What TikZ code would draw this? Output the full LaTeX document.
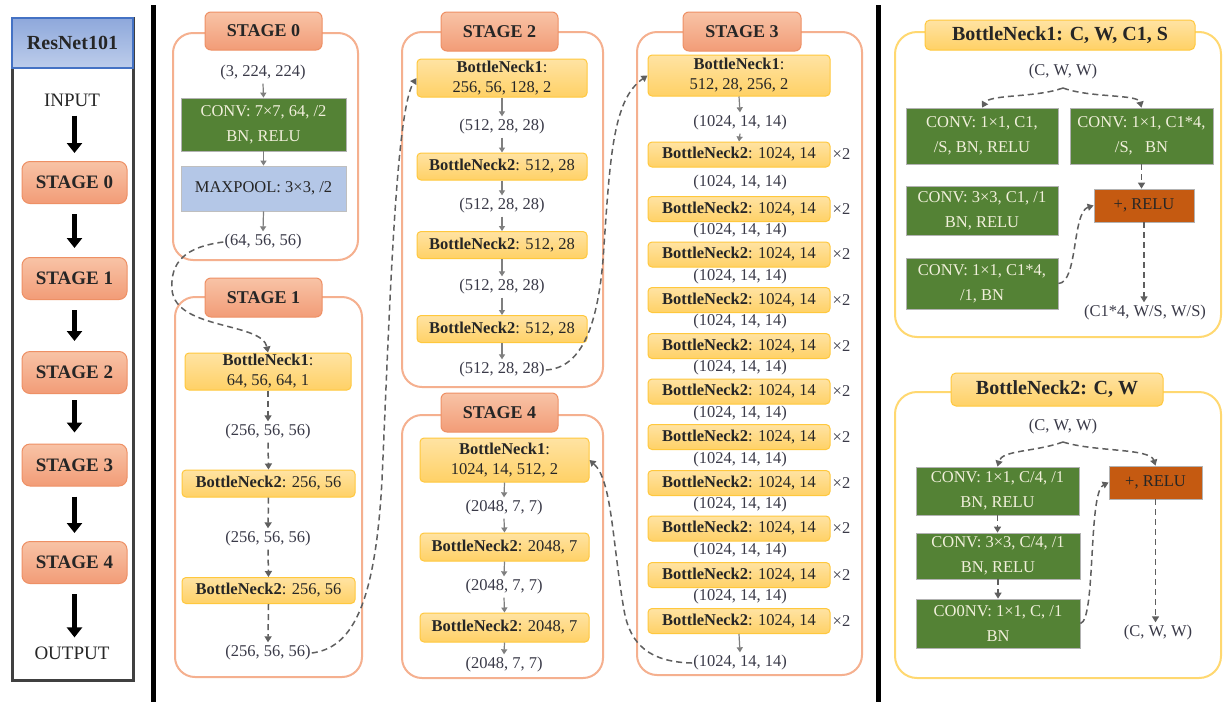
\documentclass[tikz,border=0pt]{standalone}
\usepackage{fontspec}
\setmainfont{Liberation Serif}
\usetikzlibrary{arrows.meta}
\definecolor{lblc}{HTML}{3A3A48}
\definecolor{txt}{HTML}{262626}
\definecolor{bntop}{HTML}{FFE3A3}
\definecolor{bnbot}{HTML}{FFD166}
\definecolor{bnline}{HTML}{FFC83D}
\definecolor{sttop}{HTML}{F8C3A6}
\definecolor{stbot}{HTML}{F29C77}
\definecolor{stline}{HTML}{EE9065}
\definecolor{panelc}{HTML}{F5B08F}
\definecolor{bnpanel}{HTML}{FFD870}
\definecolor{convg}{HTML}{548235}
\definecolor{convtxt}{HTML}{F2F0DC}
\definecolor{relu}{HTML}{C55A11}
\definecolor{pool}{HTML}{B4C7E7}
\definecolor{arrc}{HTML}{7F7F7F}
\definecolor{dashc}{HTML}{5F5F5F}
\definecolor{hdtop}{HTML}{8EA8DB}
\definecolor{hdbot}{HTML}{BDCDEB}
\definecolor{hdline}{HTML}{4472C4}
\begin{document}
\begin{tikzpicture}[x=1pt,y=-1pt,
  lbl/.style={font=\fontsize{16.5}{18}\selectfont, text=lblc, inner xsep=1pt, inner ysep=3pt},
  bnbox/.style={draw=bnline, line width=1pt, top color=bntop, bottom color=bnbot, rounded corners=4pt, font=\fontsize{16.5}{20}\selectfont, text=txt, align=center, inner sep=0pt},
  stitle/.style={draw=stline, line width=1pt, top color=sttop, bottom color=stbot, rounded corners=6pt, font=\bfseries\fontsize{18}{20}\selectfont, text=txt, inner sep=0pt},
  lstage/.style={stitle, rounded corners=8pt, font=\bfseries\fontsize{19}{20}\selectfont, minimum width=105pt, minimum height=42pt},
  panel/.style={draw=panelc, line width=2pt, rounded corners=20pt, inner sep=0pt},
  bnpanelst/.style={draw=bnpanel, line width=2pt, rounded corners=22pt, inner sep=0pt},
  bntitle/.style={draw=bnline, line width=1pt, top color=bntop, bottom color=bnbot, rounded corners=5pt, font=\bfseries\fontsize{20}{22}\selectfont, text=txt, inner sep=0pt},
  gbox/.style={draw=gray!60, line width=0.8pt, fill=convg, text=convtxt, font=\fontsize{16.5}{25}\selectfont, align=center, inner sep=0pt},
  obox/.style={draw=gray!60, line width=0.8pt, fill=relu, text=txt, font=\fontsize{16.5}{20}\selectfont, inner sep=0pt},
  pbox/.style={draw=gray!50, line width=0.8pt, fill=pool, text=txt, font=\fontsize{16.5}{20}\selectfont, inner sep=0pt},
  sarr/.style={draw=arrc, line width=1.2pt, -{Triangle[width=6pt,length=5pt]}},
  darr/.style={draw=dashc, line width=1.5pt, dash pattern=on 6pt off 4pt, -{Triangle[width=7pt,length=6pt]}},
  bigarr/.style={draw=black, line width=5pt, -{Triangle[width=15pt,length=10pt]}},
  lcol/.style={font=\fontsize{19}{20}\selectfont, text=txt, inner sep=1pt}
]
\fill[white] (0,0) rectangle (1223,702);
\useasboundingbox (0,0) rectangle (1223,702);

% ---------- left column ----------
\draw[draw=black!75, line width=3pt] (12,18) rectangle (133,680);
\node[draw=hdline, line width=2pt, top color=hdtop, bottom color=hdbot, minimum width=121pt, minimum height=50pt, inner sep=0pt, font=\bfseries\fontsize{20}{22}\selectfont, text=txt] (hd) at (72.5,43) {ResNet101};
\node[lcol] (inp) at (72,100) {INPUT};
\node[lstage] (L0) at (74.5,182.5) {STAGE 0};
\node[lstage] (L1) at (74.5,278.5) {STAGE 1};
\node[lstage] (L2) at (74.5,372.5) {STAGE 2};
\node[lstage] (L3) at (74.5,465) {STAGE 3};
\node[lstage] (L4) at (74.5,562.5) {STAGE 4};
\node[lcol] (outp) at (72,653) {OUTPUT};
\draw[bigarr] ([yshift=-8pt]inp.south -| L0.north) -- ([yshift=8pt]L0.north);
\draw[bigarr] ([yshift=-10pt]L0.south) -- ([yshift=9pt]L1.north);
\draw[bigarr] ([yshift=-10pt]L1.south) -- ([yshift=10pt]L2.north);
\draw[bigarr] ([yshift=-6pt]L2.south) -- ([yshift=11pt]L3.north);
\draw[bigarr] ([yshift=-10pt]L3.south) -- ([yshift=8pt]L4.north);
\draw[bigarr] ([yshift=-10pt]L4.south) -- ([yshift=8pt]outp.north -| L4.south);

% separators
\draw[line width=5pt] (153,5) -- (153,702);
\draw[line width=5pt] (878,5) -- (878,702);

% ---------- panels ----------
\node[panel, minimum width=185pt, minimum height=227pt] (p0) at (265.5,146.5) {};
\node[panel, minimum width=187pt, minimum height=380pt] (p1) at (268.5,487) {};
\node[panel, minimum width=201pt, minimum height=355pt] (p2) at (502.5,209.5) {};
\node[panel, minimum width=201pt, minimum height=263pt] (p4) at (502.5,546.5) {};
\node[panel, minimum width=225pt, minimum height=643pt] (p3) at (749.5,353.5) {};
\node[bnpanelst, minimum width=326pt, minimum height=305pt] (q1) at (1058,184.5) {};
\node[bnpanelst, minimum width=326pt, minimum height=286pt] (q2) at (1058,535) {};

\node[stitle, minimum width=117pt, minimum height=38pt] (t0) at (263.5,31) {STAGE 0};
\node[stitle, minimum width=117pt, minimum height=39pt] (t1) at (263.5,297.5) {STAGE 1};
\node[stitle, minimum width=117pt, minimum height=39pt] (t2) at (499.5,31.5) {STAGE 2};
\node[stitle, minimum width=118pt, minimum height=39pt] (t3) at (742,31.5) {STAGE 3};
\node[stitle, minimum width=117pt, minimum height=39pt] (t4) at (499.5,412.5) {STAGE 4};

% ---------- stage 0 ----------
\node[lbl] (s0in) at (263,73) {(3, 224, 224)};
\node[gbox, minimum width=165pt, minimum height=53pt] (s0c) at (263.5,124.5) {CONV: 7×7, 64, /2\\BN, RELU};
\node[pbox, minimum width=165pt, minimum height=45pt] (s0p) at (263.5,188.5) {MAXPOOL: 3×3, /2};
\node[lbl] (s0out) at (263,242) {(64, 56, 56)};
\draw[sarr] (s0in.south) -- (s0c.north);
\draw[sarr] (s0c.south) -- (s0p.north);
\draw[sarr] (s0p.south) -- (s0out.north);

% ---------- stage 1 ----------
\node[bnbox, minimum width=166pt, minimum height=37pt] (s1b1) at (268,371.5) {\textbf{BottleNeck1}:\\64, 56, 64, 1};
\node[lbl] (s1l1) at (268,432) {(256, 56, 56)};
\node[bnbox, minimum width=173pt, minimum height=27pt] (s1b2) at (268.5,483.5) {\textbf{BottleNeck2}: 256, 56};
\node[lbl] (s1l2) at (268,539) {(256, 56, 56)};
\node[bnbox, minimum width=173pt, minimum height=26pt] (s1b3) at (268.5,590.5) {\textbf{BottleNeck2}: 256, 56};
\node[lbl] (s1out) at (268,653) {(256, 56, 56)};
\draw[darr] (s1b1.south) -- (s1l1.north);
\draw[darr] (s1l1.south) -- (s1b2.north);
\draw[darr] (s1b2.south) -- (s1l2.north);
\draw[darr] (s1l2.south) -- (s1b3.north);
\draw[darr] (s1b3.south) -- (s1out.north);

% ---------- stage 2 ----------
\node[bnbox, minimum width=170pt, minimum height=38pt] (s2b1) at (502,78) {\textbf{BottleNeck1}:\\256, 56, 128, 2};
\node[lbl] (s2l1) at (502,127) {(512, 28, 28)};
\node[bnbox, minimum width=170pt, minimum height=27pt] (s2b2) at (502,166.5) {\textbf{BottleNeck2}: 512, 28};
\node[lbl] (s2l2) at (502,206) {(512, 28, 28)};
\node[bnbox, minimum width=170pt, minimum height=27pt] (s2b3) at (502,245) {\textbf{BottleNeck2}: 512, 28};
\node[lbl] (s2l3) at (502,287) {(512, 28, 28)};
\node[bnbox, minimum width=170pt, minimum height=27pt] (s2b4) at (502,329) {\textbf{BottleNeck2}: 512, 28};
\node[lbl] (s2out) at (502,370) {(512, 28, 28)};
\draw[sarr] (s2b1.south) -- (s2l1.north);
\draw[sarr] (s2l1.south) -- (s2b2.north);
\draw[sarr] (s2b2.south) -- (s2l2.north);
\draw[sarr] (s2l2.south) -- (s2b3.north);
\draw[sarr] (s2b3.south) -- (s2l3.north);
\draw[sarr] (s2l3.south) -- (s2b4.north);
\draw[sarr] (s2b4.south) -- (s2out.north);

% ---------- stage 4 ----------
\node[bnbox, minimum width=169pt, minimum height=44pt] (s4b1) at (504.5,460) {\textbf{BottleNeck1}:\\1024, 14, 512, 2};
\node[lbl] (s4l1) at (504,508) {(2048, 7, 7)};
\node[bnbox, minimum width=169pt, minimum height=28pt] (s4b2) at (504.5,547) {\textbf{BottleNeck2}: 2048, 7};
\node[lbl] (s4l2) at (504,587) {(2048, 7, 7)};
\node[bnbox, minimum width=169pt, minimum height=29pt] (s4b3) at (504.5,627.5) {\textbf{BottleNeck2}: 2048, 7};
\node[lbl] (s4out) at (504,665) {(2048, 7, 7)};
\draw[sarr] (s4b1.south) -- (s4l1.north);
\draw[sarr] (s4l1.south) -- (s4b2.north);
\draw[sarr] (s4b2.south) -- (s4l2.north);
\draw[sarr] (s4l2.south) -- (s4b3.north);
\draw[sarr] (s4b3.south) -- (s4out.north);

% ---------- stage 3 ----------
\node[bnbox, minimum width=182pt, minimum height=41pt] (s3b0) at (739,75.5) {\textbf{BottleNeck1}:\\512, 28, 256, 2};
\node[lbl] (s3l0) at (740,123) {(1024, 14, 14)};
\foreach \i/\y in {1/154.5,2/209,3/254.5,4/300,5/346,6/391.5,7/437,8/483,9/528.5,10/575,11/621}{
  \node[bnbox, minimum width=182pt, minimum height=25pt] (s3b\i) at (739,\y) {\textbf{BottleNeck2}: 1024, 14};
  \node[lbl, anchor=west] (s3x\i) at ([xshift=1pt]s3b\i.east) {×2};
}
\foreach \i/\y in {1/182.5,2/230.5,3/276.5,4/322,5/368,6/413.5,7/459.5,8/505,9/551,10/597}{
  \node[lbl] (s3l\i) at (740,\y) {(1024, 14, 14)};
}
\node[lbl] (s3out) at (740,663) {(1024, 14, 14)};
\draw[sarr] (s3b0.south) -- (s3l0.north);
\draw[sarr] (s3l0.south) -- (s3b1.north);
\draw[sarr] (s3b11.south) -- (s3out.north);

% ---------- stage connectors ----------
\draw[darr] (s0out.west) .. controls (185,247) and (170,262) .. (172,290) .. controls (176,330) and (262,322) .. (s1b1.north);
\draw[darr] (s1out.east) .. controls (350,648) and (375,610) .. (382,480) .. controls (390,300) and (396,110) .. (s2b1.west);
\draw[darr] (s2out.east) .. controls (580,368) and (597,330) .. (603,260) .. controls (610,160) and (612,100) .. (s3b0.west);
\draw[darr] (s3out.west) .. controls (650,662) and (630,645) .. (624,610) .. controls (612,540) and (612,480) .. (s4b1.east);

% ---------- BottleNeck1 detail ----------
\node[bntitle, minimum width=270pt, minimum height=30pt] (q1t) at (1060,35) {BottleNeck1: C, W, C1, S};
\node[lbl] (r1in) at (1063,72) {(C, W, W)};
\coordinate (a1) at (1063,88);
\node[gbox, minimum width=152pt, minimum height=56pt] (r1g1) at (982,136) {CONV: 1×1, C1,\\/S, BN, RELU};
\node[gbox, minimum width=143pt, minimum height=56pt] (r1gR) at (1141.5,136) {CONV: 1×1, C1*4,\\/S,~~~BN};
\node[gbox, minimum width=152pt, minimum height=49pt] (r1g2) at (982,210.5) {CONV: 3×3, C1, /1\\BN, RELU};
\node[gbox, minimum width=152pt, minimum height=51pt] (r1g3) at (982,283.5) {CONV: 1×1, C1*4,\\/1, BN};
\node[obox, minimum width=100pt, minimum height=33pt] (r1o) at (1144,205.5) {+, RELU};
\node[lbl] (r1out) at (1145,313) {(C1*4, W/S, W/S)};
\draw[darr] (a1) .. controls (1035,98) and (990,94) .. (r1g1.north);
\draw[darr] (a1) .. controls (1090,98) and (1138,94) .. (r1gR.north);
\draw[darr] (r1gR.south) -- (r1gR.south |- r1o.north);
\draw[darr] (r1o.south) -- (r1o.south |- r1out.north);
\draw[darr] (r1g3.east) .. controls (1078,283) and (1072,212) .. (r1o.west);

% ---------- BottleNeck2 detail ----------
\node[bntitle, minimum width=212pt, minimum height=33pt] (q2t) at (1057,389.5) {BottleNeck2: C, W};
\node[lbl] (r2in) at (1063,427) {(C, W, W)};
\coordinate (a2) at (1063,442);
\node[gbox, minimum width=163pt, minimum height=48pt] (r2g1) at (997.5,491) {CONV: 1×1, C/4, /1\\BN, RELU};
\node[gbox, minimum width=164pt, minimum height=46pt] (r2g2) at (998,556) {CONV: 3×3, C/4, /1\\BN, RELU};
\node[gbox, minimum width=164pt, minimum height=49pt] (r2g3) at (998,623.5) {CO0NV: 1×1, C, /1\\BN};
\node[obox, minimum width=93pt, minimum height=33pt] (r2o) at (1155.5,482.5) {+, RELU};
\node[lbl] (r2out) at (1158,633) {(C, W, W)};
\draw[darr] (a2) .. controls (1035,452) and (1002,450) .. (r2g1.north);
\draw[darr] (a2) .. controls (1095,452) and (1150,448) .. (r2o.north);
\draw[darr] (r2g1.south) -- (r2g1.south |- r2g2.north);
\draw[darr] (r2g2.south) -- (r2g2.south |- r2g3.north);
\draw[darr] (r2g3.east) .. controls (1096,620) and (1088,492) .. (r2o.west);
\draw[darr] (r2o.south) -- (r2o.south |- r2out.north);
\end{tikzpicture}
\end{document}
